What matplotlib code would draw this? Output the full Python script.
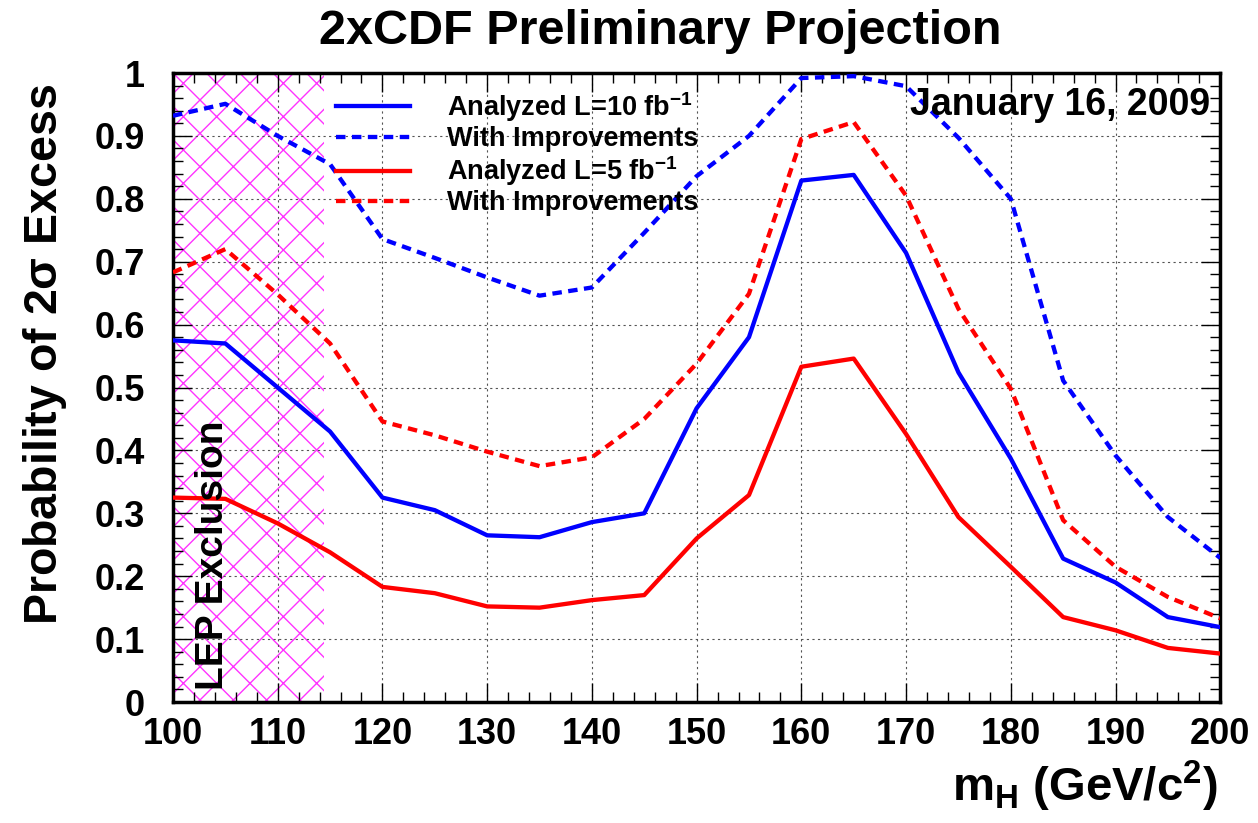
"""2xCDF preliminary projection: probability of a 2 sigma excess vs Higgs mass."""

import matplotlib

matplotlib.use("Agg")
import matplotlib.pyplot as plt
from matplotlib.ticker import MultipleLocator

plt.rcParams["font.family"] = ["Liberation Sans", "DejaVu Sans"]
plt.rcParams["font.weight"] = "bold"
plt.rcParams["mathtext.default"] = "regular"
plt.rcParams["hatch.linewidth"] = 1.0

mass = [100, 105, 110, 115, 120, 125, 130, 135, 140, 145, 150,
        155, 160, 165, 170, 175, 180, 185, 190, 195, 200]

# L = 10 fb^-1
prob_10 = [0.575, 0.570, 0.500, 0.430, 0.325, 0.305, 0.265, 0.262, 0.286, 0.300, 0.467,
           0.580, 0.829, 0.838, 0.714, 0.524, 0.387, 0.228, 0.190, 0.135, 0.119]
prob_10_impr = [0.932, 0.951, 0.900, 0.855, 0.736, 0.706, 0.675, 0.646, 0.659, 0.746, 0.836,
                0.900, 0.992, 0.995, 0.979, 0.897, 0.800, 0.511, 0.392, 0.294, 0.229]

# L = 5 fb^-1
prob_5 = [0.325, 0.323, 0.284, 0.238, 0.183, 0.173, 0.152, 0.150, 0.162, 0.170, 0.260,
          0.329, 0.533, 0.546, 0.426, 0.294, 0.215, 0.135, 0.114, 0.086, 0.077]
prob_5_impr = [0.683, 0.720, 0.648, 0.570, 0.446, 0.424, 0.398, 0.375, 0.389, 0.450, 0.538,
               0.649, 0.895, 0.922, 0.805, 0.625, 0.498, 0.289, 0.215, 0.167, 0.133]

lep_limit = 114.4

fig = plt.figure(figsize=(12.58, 8.23), dpi=100, facecolor="white")
ax = fig.add_axes([0.1375, 0.147, 0.8325, 0.7643])

ax.axvspan(100, lep_limit, facecolor="none", edgecolor="#ff33ff", hatch="x",
           linewidth=0, zorder=1)

dash = (2.2, 1.5)
lw = 3.1
ax.plot(mass, prob_10, color="#0000ff", lw=lw, label=r"Analyzed L=10 fb$^{-1}$", zorder=4)
ax.plot(mass, prob_10_impr, color="#0000ff", lw=lw, ls=(0, dash),
        label="With Improvements", zorder=4)
ax.plot(mass, prob_5, color="#ff0000", lw=lw, label=r"Analyzed L=5 fb$^{-1}$", zorder=4)
ax.plot(mass, prob_5_impr, color="#ff0000", lw=lw, ls=(0, dash),
        label="With Improvements", zorder=4)

ax.set_xlim(100, 200)
ax.set_ylim(0, 1)
ax.xaxis.set_major_locator(MultipleLocator(10))
ax.xaxis.set_minor_locator(MultipleLocator(2))
ax.yaxis.set_major_locator(MultipleLocator(0.1))
ax.yaxis.set_minor_locator(MultipleLocator(0.02))
ax.yaxis.set_major_formatter(
    plt.FuncFormatter(lambda v, _: f"{v:.1f}".rstrip("0").rstrip(".") if v else "0"))

ax.tick_params(which="both", direction="in", top=True, right=True, labelsize=26)
ax.tick_params(which="major", length=14, width=1.0)
ax.tick_params(which="minor", length=7, width=1.0)
ax.tick_params(axis="x", pad=11)
ax.tick_params(axis="y", pad=20)
for lab in ax.get_xticklabels() + ax.get_yticklabels():
    lab.set_fontweight("bold")
for sp in ax.spines.values():
    sp.set_linewidth(2.5)

ax.grid(True, which="major", ls=(0, (2, 3)), color="#555555", lw=0.8, zorder=0)

ax.text(103.8, 0.019, "LEP Exclusion", rotation=90, fontsize=28, fontweight="bold",
        ha="center", va="bottom", zorder=5)
ax.text(0.990, 0.949, "January 16, 2009", transform=ax.transAxes, fontsize=27,
        fontweight="bold", ha="right", va="center", zorder=5)

leg = ax.legend(loc="upper left", bbox_to_anchor=(0.145, 0.99), frameon=False,
                fontsize=19.5, handlelength=2.75, handletextpad=1.35, labelspacing=0.08,
                borderaxespad=0)
for t in leg.get_texts():
    t.set_fontweight("bold")

fig.text(0.525, 0.962, "2xCDF Preliminary Projection", fontsize=35, fontweight="bold",
         ha="center", va="center")
fig.text(0.036, 0.569, r"Probability of 2$\sigma$ Excess", fontsize=33.5, fontweight="bold",
         rotation=90, ha="center", va="center")
fig.text(0.968, 0.044, r"m$_\mathregular{H}$ (GeV/c$^\mathregular{2}$)", fontsize=34,
         fontweight="bold", ha="right", va="center")

fig.savefig("out.png", dpi=100, facecolor="white")
